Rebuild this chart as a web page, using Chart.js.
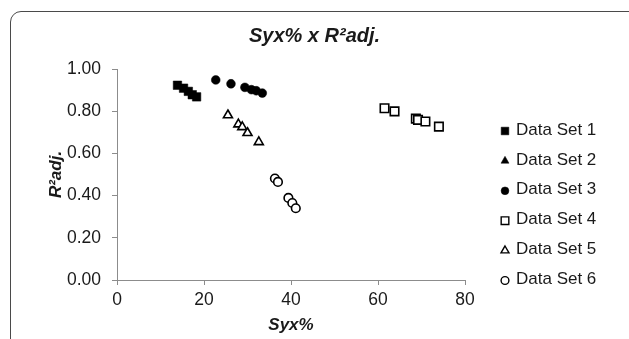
<!DOCTYPE html>
<html>
<head>
<meta charset="utf-8">
<script src="https://cdn.jsdelivr.net/npm/chart.js@4"></script>
<style>
    html, body { margin: 0; padding: 0; background: #fff; overflow: hidden; }
    #wrap { position: relative; width: 629px; height: 339px; }
    #frame {
        position: absolute; left: 10px; top: 11px; width: 700px; height: 420px;
        border: 1.5px solid #4a4a4a; border-radius: 11px;
    }
    #chart { position: absolute; left: 0; top: 0; }
</style>
</head>
<body>
<div id="wrap">
    <div id="frame"></div>
    <canvas id="chart" width="629" height="339"></canvas>
</div>
<script>
// values (x = Syx%, y = R²adj.)
const seriesNames = ['Data Set 1', 'Data Set 2', 'Data Set 3', 'Data Set 4', 'Data Set 5', 'Data Set 6'];

const set1X = [13.9, 15.3, 16.4, 17.3, 18.3];
const set1Y = [0.923, 0.909, 0.894, 0.878, 0.868];

const set2X = [];
const set2Y = [];

const set3X = [22.7, 26.2, 29.4, 30.9, 32.0, 33.4];
const set3Y = [0.948, 0.930, 0.913, 0.902, 0.897, 0.886];

const set4X = [61.5, 63.8, 68.7, 69.2, 70.9, 74.0];
const set4Y = [0.814, 0.799, 0.765, 0.759, 0.751, 0.727];

const set5X = [25.5, 27.9, 28.8, 30.0, 32.6];
const set5Y = [0.781, 0.738, 0.725, 0.697, 0.654];

const set6X = [36.3, 37.0, 39.4, 40.3, 41.1];
const set6Y = [0.481, 0.465, 0.389, 0.365, 0.340];

const xTicks = [0, 20, 40, 60, 80];
const yTicks = [0, 0.2, 0.4, 0.6, 0.8, 1.0];

const FONT = '"Liberation Sans", Arial, sans-serif';
const TEXT = '#1a1a1a';
const AXIS = '#8c8c8c';

function toPoints(xs, ys) {
    return xs.map((x, i) => ({ x: x, y: ys[i] }));
}

// marker style for each series: filled black or hollow (white fill, black edge)
const markers = [
    { style: 'rect', radius: 6, filled: true },
    { style: 'triangle', radius: 5, filled: true },
    { style: 'circle', radius: 4.4, filled: true },
    { style: 'rect', radius: 6, filled: false },
    { style: 'triangle', radius: 5.2, filled: false },
    { style: 'circle', radius: 4.3, filled: false }
];

const allX = [set1X, set2X, set3X, set4X, set5X, set6X];
const allY = [set1Y, set2Y, set3Y, set4Y, set5Y, set6Y];

const datasets = seriesNames.map((name, i) => ({
    label: name,
    data: toPoints(allX[i], allY[i]),
    pointStyle: markers[i].style,
    pointRadius: markers[i].radius,
    pointHoverRadius: markers[i].radius,
    backgroundColor: markers[i].filled ? '#000' : '#fff',
    borderColor: '#000',
    pointBorderWidth: markers[i].filled ? 0.5 : 1.6
}));

// legend drawn beside the plot, Excel style
const sideLegend = {
    id: 'sideLegend',
    afterDraw(chart) {
        const ctx = chart.ctx;
        const area = chart.chartArea;
        const markerX = area.right + 40;
        const textX = area.right + 51;
        let y = chart.scales.y.getPixelForValue(1) + 61;
        ctx.save();
        ctx.font = '17px ' + FONT;
        ctx.textBaseline = 'middle';
        ctx.textAlign = 'left';
        chart.data.datasets.forEach((ds, i) => {
            const m = markers[i];
            ctx.fillStyle = ds.backgroundColor;
            ctx.strokeStyle = ds.borderColor;
            ctx.lineWidth = m.filled ? 0.5 : 1.4;
            Chart.helpers.drawPoint(ctx, {
                pointStyle: m.style,
                radius: m.style === 'circle' ? 3.9 : (m.style === 'rect' ? 5.4 : 4.6),
                rotation: 0,
                borderWidth: ctx.lineWidth
            }, markerX, y + 1);
            ctx.fillStyle = TEXT;
            ctx.fillText(ds.label, textX, y);
            y += 29.9;
        });
        ctx.restore();
    }
};

new Chart(document.getElementById('chart'), {
    type: 'scatter',
    data: { datasets: datasets },
    options: {
        responsive: false,
        animation: false,
        plugins: {
            legend: { display: false },
            tooltip: { enabled: false },
            title: {
                display: true,
                text: 'Syx% x R²adj.',
                color: TEXT,
                font: { family: FONT, size: 20, weight: 'bold', style: 'italic', lineHeight: 1.2 },
                padding: { top: 24, bottom: 21 }
            }
        },
        scales: {
            x: {
                type: 'linear',
                min: 0,
                max: 80,
                afterBuildTicks: axis => { axis.ticks = xTicks.map(v => ({ value: v })); },
                afterFit: axis => { axis.height = 59; },
                ticks: { color: TEXT, font: { family: FONT, size: 17.5 }, padding: 5 },
                grid: { display: true, drawOnChartArea: false, drawTicks: true, tickLength: 5, color: AXIS },
                border: { display: true, color: AXIS, width: 1 },
                title: {
                    display: true,
                    text: 'Syx%',
                    color: TEXT,
                    font: { family: FONT, size: 17, weight: 'bold', style: 'italic' },
                    padding: { top: 0, bottom: 3 }
                }
            },
            y: {
                type: 'linear',
                min: 0,
                max: 1,
                afterBuildTicks: axis => { axis.ticks = yTicks.map(v => ({ value: v })); },
                afterFit: axis => { axis.width = 117; },
                ticks: {
                    color: TEXT,
                    font: { family: FONT, size: 17.5 },
                    padding: 11,
                    callback: v => Number(v).toFixed(2)
                },
                grid: { display: true, drawOnChartArea: false, drawTicks: true, tickLength: 5, color: AXIS },
                border: { display: true, color: AXIS, width: 1 },
                title: {
                    display: true,
                    text: 'R²adj.',
                    color: TEXT,
                    font: { family: FONT, size: 17, weight: 'bold', style: 'italic' },
                    padding: { top: 46, bottom: 0 }
                }
            },
            // empty right-hand axis that only reserves room for the legend
            side: {
                type: 'linear',
                position: 'right',
                display: true,
                afterFit: axis => { axis.width = 164; },
                ticks: { display: false },
                grid: { display: false },
                border: { display: false }
            }
        }
    },
    plugins: [sideLegend]
});
</script>
</body>
</html>
